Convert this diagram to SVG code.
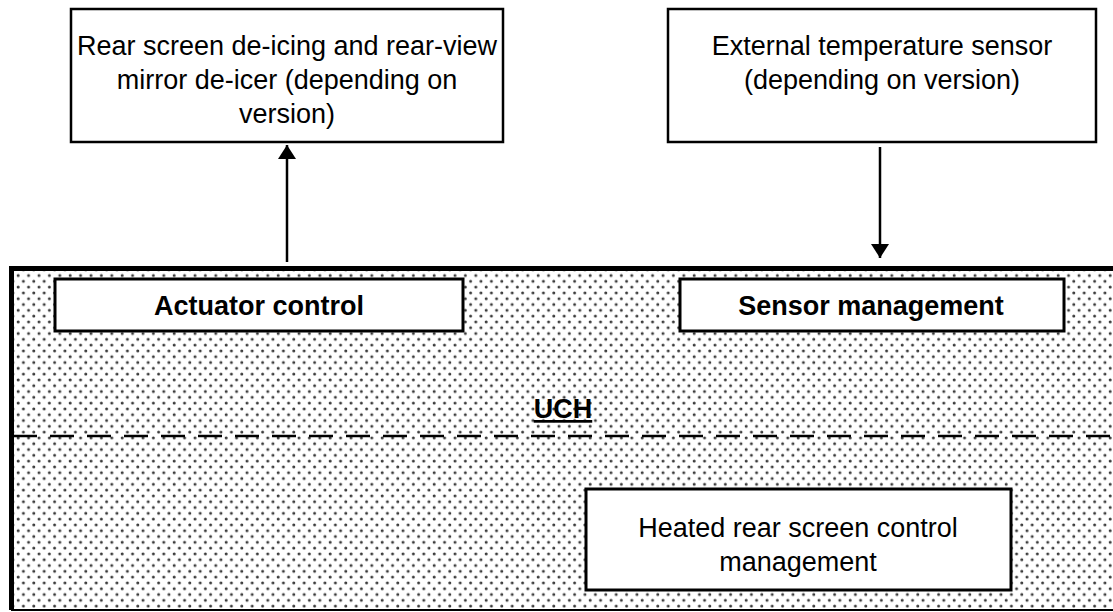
<svg xmlns="http://www.w3.org/2000/svg" width="1113" height="612" viewBox="0 0 1113 612">
<style>
.box{fill:#fff;stroke:#000;stroke-width:3}
.tbox{fill:#fff;stroke:#000;stroke-width:2.5}
.t{font-family:"Liberation Sans",Arial,sans-serif;font-size:27px;fill:#000;text-anchor:middle}
.b{font-weight:bold}
.conn{stroke:#000;stroke-width:2.5;fill:none}
</style>
<defs>
<pattern id="dots" width="10.4" height="11.6" patternUnits="userSpaceOnUse">
<rect width="10.4" height="11.6" fill="#fff"/>
<circle cx="2.6" cy="2.9" r="1.5" fill="#3a3a3a"/>
<circle cx="7.8" cy="8.7" r="1.5" fill="#3a3a3a"/>
</pattern>
<marker id="ah" viewBox="0 0 14 18" refX="14" refY="9" markerWidth="14" markerHeight="18" markerUnits="userSpaceOnUse" orient="auto">
<path d="M0,0 L14,9 L0,18 Z" fill="#000"/>
</marker>
</defs>
<g id="uch">
<rect x="11" y="268" width="1110" height="342" fill="url(#dots)"/>
<path d="M11.5,610 V268.5 H1113" fill="none" stroke="#000" stroke-width="5"/>
<line x1="11" y1="610" x2="1113" y2="610" stroke="#000" stroke-width="2"/>
<line x1="13" y1="436" x2="1113" y2="436" stroke="#000" stroke-width="2.5" stroke-dasharray="24,13"/>
<text class="t b" x="563" y="418" text-decoration="underline">UCH</text>
</g>
<g id="rear-deicing">
<rect class="tbox" x="71" y="9" width="432" height="133"/>
<text class="t" x="287" y="55">Rear screen de-icing and rear-view</text>
<text class="t" x="287" y="89">mirror de-icer (depending on</text>
<text class="t" x="287" y="123">version)</text>
</g>
<g id="ext-temp">
<rect class="tbox" x="668" y="9" width="428" height="133"/>
<text class="t" x="882" y="55">External temperature sensor</text>
<text class="t" x="882" y="89">(depending on version)</text>
</g>
<g id="actuator">
<rect class="box" x="55" y="279" width="408" height="52"/>
<text class="t b" x="259" y="315">Actuator control</text>
</g>
<g id="sensor">
<rect class="box" x="680" y="279" width="384" height="52"/>
<text class="t b" x="871" y="315">Sensor management</text>
</g>
<g id="heated">
<rect class="box" x="586" y="489" width="425" height="101"/>
<text class="t" x="798" y="537">Heated rear screen control</text>
<text class="t" x="798" y="571">management</text>
</g>
<g id="connectors">
<line class="conn" x1="287" y1="262" x2="287" y2="145" marker-end="url(#ah)"/>
<line class="conn" x1="880" y1="147" x2="880" y2="258" marker-end="url(#ah)"/>
</g>
</svg>
